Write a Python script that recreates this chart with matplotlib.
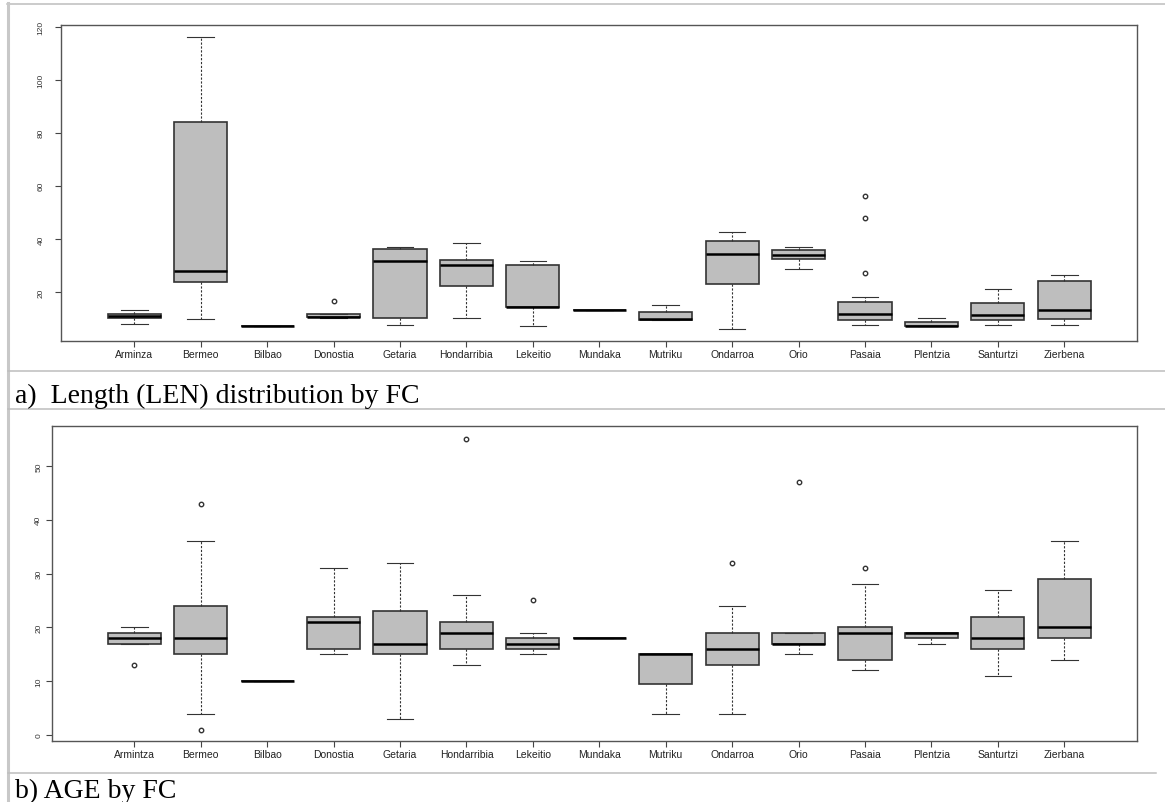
#!/usr/bin/env python
"""
Box plots of fish length (LEN) and age (AGE) per fishing community (FC),
laid out as two stacked panels with captions, like a report figure.
"""

import matplotlib
matplotlib.use("Agg")
import matplotlib.pyplot as plt
from matplotlib.lines import Line2D

plt.rcParams["font.family"] = ["Liberation Sans", "DejaVu Sans"]

# ---- data: five-number summaries read per community ----
len_names = ["Arminza", "Bermeo", "Bilbao", "Donostia", "Getaria", "Hondarribia",
             "Lekeitio", "Mundaka", "Mutriku", "Ondarroa", "Orio", "Pasaia",
             "Plentzia", "Santurtzi", "Zierbena"]
len_whislo = [7.9, 9.8, 7.0, 10.1, 7.4, 10.1, 7.0, 13.3, 9.4, 6.2, 28.7, 7.4, 7.0, 7.4, 7.4]
len_q1 = [10.1, 23.7, 7.0, 10.4, 10.1, 22.2, 14.5, 13.3, 9.4, 22.9, 32.3, 9.3, 7.0, 9.6, 9.7]
len_med = [11.0, 27.8, 7.0, 10.5, 31.6, 30.1, 14.5, 13.3, 9.8, 34.2, 34.1, 11.8, 7.0, 11.2, 13.3]
len_q3 = [11.7, 84.0, 7.0, 11.7, 36.0, 32.0, 30.1, 13.3, 12.6, 39.1, 35.7, 16.1, 8.6, 15.7, 24.0]
len_whishi = [13.2, 116.1, 7.0, 11.7, 37.1, 38.4, 31.6, 13.3, 15.0, 42.5, 37.0, 18.1, 10.1, 21.0, 26.5]
len_fliers = [[], [], [], [16.5], [], [], [], [], [], [], [], [27.1, 47.8, 56.3], [], [], []]

age_names = ["Armintza", "Bermeo", "Bilbao", "Donostia", "Getaria", "Hondarribia",
             "Lekeitio", "Mundaka", "Mutriku", "Ondarroa", "Orio", "Pasaia",
             "Plentzia", "Santurtzi", "Zierbana"]
age_whislo = [17, 4, 10, 15, 3, 13, 15, 18, 4, 4, 15, 12, 17, 11, 14]
age_q1 = [17, 15, 10, 16, 15, 16, 16, 18, 9.5, 13, 17, 14, 18, 16, 18]
age_med = [18, 18, 10, 21, 17, 19, 17, 18, 15, 16, 17, 19, 19, 18, 20]
age_q3 = [19, 24, 10, 22, 23, 21, 18, 18, 15, 19, 19, 20, 19, 22, 29]
age_whishi = [20, 36, 10, 31, 32, 26, 19, 18, 15, 24, 19, 28, 19, 27, 36]
age_fliers = [[13], [1, 43], [], [], [], [55], [25], [], [], [32], [47], [31], [], [], []]

len_yticks = [20, 40, 60, 80, 100, 120]
age_yticks = [0, 10, 20, 30, 40, 50]

W, H = 1165, 803


def fx(x):
    return x / W


def fy(y):
    return 1 - y / H


def make_stats(names, lo, q1, med, q3, hi, fliers):
    return [dict(label=n, whislo=a, q1=b, med=c, q3=d, whishi=e, fliers=f)
            for n, a, b, c, d, e, f in zip(names, lo, q1, med, q3, hi, fliers)]


def draw_panel(ax, stats, names, yticks, xlim, ylim, ypad):
    pos = list(range(1, len(stats) + 1))
    ax.bxp(stats, positions=pos, widths=0.8, capwidths=0.4,
           patch_artist=True, showfliers=True,
           boxprops=dict(facecolor="#BEBEBE", edgecolor="#333333", linewidth=1.2),
           medianprops=dict(color="black", linewidth=1.8),
           whiskerprops=dict(color="#333333", linewidth=0.8, linestyle=(0, (2, 1.5))),
           capprops=dict(color="#333333", linewidth=0.8),
           flierprops=dict(marker="o", markersize=3.2, markerfacecolor="none",
                           markeredgecolor="#333333", markeredgewidth=1.0))
    ax.set_xlim(*xlim)
    ax.set_ylim(*ylim)
    ax.set_xticks(pos, names)
    ax.set_yticks(yticks)
    ax.tick_params(axis="x", length=4, width=0.8, color="#444444",
                   labelsize=7.5, labelcolor="#222222", pad=1.5)
    ax.tick_params(axis="y", length=4, width=0.8, color="#444444",
                   labelsize=6, labelcolor="#333333", pad=ypad)
    plt.setp(ax.get_yticklabels(), rotation=90, va="center")
    for s in ax.spines.values():
        s.set_color("#555555")
        s.set_linewidth(1.0)
    ax.set_facecolor("white")


fig = plt.figure(figsize=(W / 100, H / 100), dpi=100)

# page / table rules
rule = "#BDBDBD"
fig.add_artist(Line2D([fx(7), fx(1165)], [fy(4.5), fy(4.5)], transform=fig.transFigure,
                      color=rule, lw=1.1))
fig.add_artist(Line2D([fx(8), fx(8)], [fy(4), fy(803)], transform=fig.transFigure,
                      color="#C8C8C8", lw=2.2))
for yy in (371.5, 410):
    fig.add_artist(Line2D([fx(8), fx(1165)], [fy(yy), fy(yy)], transform=fig.transFigure,
                          color=rule, lw=1.1))
fig.add_artist(Line2D([fx(8), fx(1156)], [fy(774), fy(774)], transform=fig.transFigure,
                      color=rule, lw=1.1))

# figure heading, running off the top of the page
fig.text(fx(234), fy(-4.5), "Figure 3. Length (LEN) distribution by year and Age (AGE)",
         ha="left", va="baseline", fontweight="bold", fontsize=14.5)

# a) length panel
ax1 = fig.add_axes([fx(61), fy(342), fx(1137) - fx(61), fy(26) - fy(342)])
draw_panel(ax1, make_stats(len_names, len_whislo, len_q1, len_med, len_q3, len_whishi, len_fliers),
           len_names, len_yticks, (-0.103, 16.094), (1.5, 120.6), 8)

# b) age panel
ax2 = fig.add_axes([fx(52), fy(742), fx(1137) - fx(52), fy(427) - fy(742)])
draw_panel(ax2, make_stats(age_names, age_whislo, age_q1, age_med, age_q3, age_whishi, age_fliers),
           age_names, age_yticks, (-0.239, 16.094), (-1.1, 57.4), 3)

fig.text(fx(15), fy(403), "a)  Length (LEN) distribution by FC", family="Liberation Serif",
         fontsize=20, va="baseline")
fig.text(fx(15), fy(798), "b) AGE by FC", family="Liberation Serif",
         fontsize=20, va="baseline")

fig.savefig("out.png", dpi=100)
